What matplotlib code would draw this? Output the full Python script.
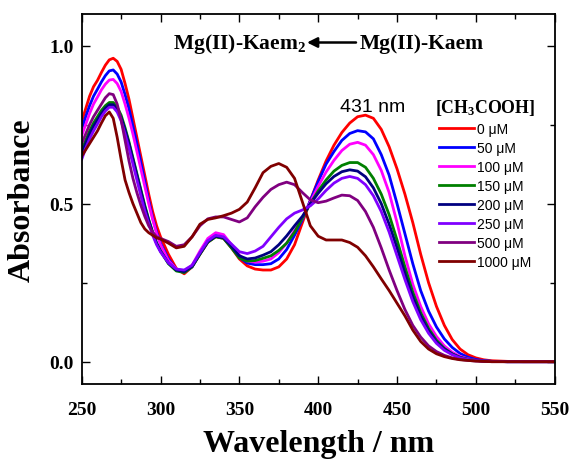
import matplotlib
matplotlib.use("Agg")
import matplotlib.pyplot as plt
from matplotlib.ticker import MultipleLocator

plt.rcParams['mathtext.fontset'] = 'custom'
plt.rcParams['mathtext.rm'] = 'Liberation Serif:bold'
plt.rcParams['mathtext.it'] = 'Liberation Serif:bold'
plt.rcParams['mathtext.bf'] = 'Liberation Serif:bold'

# ---------------- data ----------------
wavelength = [250, 252.5, 255, 257.5, 260, 262.5, 265, 267.5, 270, 272.5, 275, 277.5, 280, 282.5,
              285, 287.5, 290, 292.5, 295, 297.5, 300,
              305, 310, 315, 320, 325, 330, 335, 340, 345, 350,
              355, 360, 365, 370, 375, 380, 385, 390, 395, 400,
              405, 410, 415, 420, 425, 430, 435, 440, 445, 450,
              455, 460, 465, 470, 475, 480, 485, 490, 495, 500,
              505, 510, 520, 530, 540, 550]

abs_0 = [0.76, 0.80, 0.84, 0.87, 0.89, 0.915, 0.938, 0.955, 0.96, 0.95, 0.925, 0.88, 0.83, 0.77,
         0.71, 0.65, 0.59, 0.53, 0.475, 0.43, 0.395,
         0.34, 0.295, 0.278, 0.30, 0.34, 0.378, 0.396, 0.39, 0.36, 0.325,
         0.303, 0.293, 0.29, 0.29, 0.30, 0.325, 0.37, 0.44, 0.51, 0.575,
         0.635, 0.685, 0.725, 0.755, 0.775, 0.78, 0.77, 0.735, 0.68, 0.61,
         0.53, 0.44, 0.34, 0.25, 0.175, 0.115, 0.07, 0.04, 0.022, 0.012,
         0.006, 0.003, 0.001, 0, 0, 0]
abs_50 = [0.735, 0.775, 0.81, 0.84, 0.862, 0.885, 0.905, 0.92, 0.923, 0.91, 0.885, 0.845, 0.80, 0.745,
          0.69, 0.63, 0.57, 0.51, 0.455, 0.41, 0.375,
          0.325, 0.292, 0.283, 0.30, 0.342, 0.38, 0.398, 0.392, 0.362, 0.33,
          0.312, 0.307, 0.307, 0.31, 0.325, 0.355, 0.40, 0.45, 0.51, 0.57,
          0.625, 0.665, 0.70, 0.722, 0.731, 0.727, 0.705, 0.655, 0.59, 0.50,
          0.405, 0.31, 0.225, 0.16, 0.11, 0.072, 0.045, 0.026, 0.014, 0.007,
          0.003, 0.001, 0, 0, 0, 0]
abs_100 = [0.715, 0.75, 0.785, 0.815, 0.837, 0.86, 0.878, 0.891, 0.893, 0.88, 0.855, 0.815, 0.77, 0.72,
           0.665, 0.61, 0.555, 0.50, 0.45, 0.405, 0.37,
           0.32, 0.293, 0.287, 0.305, 0.35, 0.39, 0.408, 0.402, 0.37, 0.337,
           0.318, 0.315, 0.318, 0.325, 0.345, 0.375, 0.415, 0.455, 0.505, 0.555,
           0.60, 0.637, 0.668, 0.688, 0.694, 0.685, 0.655, 0.605, 0.535, 0.44,
           0.335, 0.245, 0.175, 0.12, 0.08, 0.05, 0.03, 0.017, 0.009, 0.004,
           0.002, 0.001, 0, 0, 0, 0]
abs_150 = [0.67, 0.70, 0.73, 0.755, 0.775, 0.795, 0.81, 0.82, 0.82, 0.805, 0.78, 0.74, 0.695, 0.645,
           0.595, 0.545, 0.495, 0.45, 0.41, 0.375, 0.35,
           0.31, 0.287, 0.282, 0.30, 0.34, 0.378, 0.395, 0.39, 0.36, 0.328,
           0.318, 0.32, 0.327, 0.335, 0.352, 0.375, 0.41, 0.455, 0.50, 0.54,
           0.575, 0.603, 0.621, 0.63, 0.63, 0.615, 0.58, 0.53, 0.465, 0.385,
           0.30, 0.22, 0.155, 0.105, 0.068, 0.042, 0.025, 0.014, 0.008, 0.004,
           0.002, 0.001, 0, 0, 0, 0]
abs_200 = [0.66, 0.69, 0.72, 0.745, 0.765, 0.785, 0.802, 0.813, 0.813, 0.798, 0.772, 0.733, 0.69, 0.64,
           0.59, 0.54, 0.49, 0.447, 0.408, 0.375, 0.35,
           0.312, 0.29, 0.285, 0.302, 0.342, 0.38, 0.397, 0.392, 0.365, 0.335,
           0.325, 0.328, 0.337, 0.348, 0.37, 0.398, 0.43, 0.46, 0.50, 0.533,
           0.563, 0.586, 0.601, 0.607, 0.603, 0.585, 0.55, 0.50, 0.435, 0.36,
           0.28, 0.205, 0.145, 0.098, 0.063, 0.04, 0.024, 0.013, 0.007, 0.004,
           0.002, 0.001, 0, 0, 0, 0]
abs_250 = [0.64, 0.675, 0.705, 0.73, 0.752, 0.775, 0.793, 0.805, 0.805, 0.79, 0.762, 0.72, 0.675, 0.625,
           0.575, 0.525, 0.477, 0.437, 0.40, 0.37, 0.347,
           0.313, 0.293, 0.29, 0.305, 0.345, 0.383, 0.40, 0.395, 0.372, 0.348,
           0.342, 0.35, 0.365, 0.395, 0.425, 0.452, 0.47, 0.48, 0.493, 0.515,
           0.542, 0.565, 0.58, 0.586, 0.58, 0.56, 0.525, 0.475, 0.41, 0.335,
           0.26, 0.19, 0.133, 0.09, 0.058, 0.036, 0.022, 0.012, 0.007, 0.004,
           0.002, 0.001, 0, 0, 0, 0]
abs_500 = [0.69, 0.72, 0.75, 0.775, 0.795, 0.815, 0.835, 0.848, 0.845, 0.815, 0.765, 0.70, 0.635, 0.58,
           0.535, 0.495, 0.46, 0.43, 0.41, 0.395, 0.39,
           0.38, 0.365, 0.37, 0.395, 0.43, 0.452, 0.458, 0.458, 0.45, 0.442,
           0.455, 0.49, 0.52, 0.545, 0.56, 0.568, 0.56, 0.535, 0.512, 0.503,
           0.508, 0.518, 0.527, 0.525, 0.51, 0.475, 0.425, 0.36, 0.29, 0.225,
           0.165, 0.115, 0.078, 0.05, 0.032, 0.02, 0.012, 0.007, 0.004, 0.002,
           0.001, 0, 0, 0, 0, 0]
abs_1000 = [0.65, 0.67, 0.69, 0.71, 0.73, 0.755, 0.778, 0.79, 0.77, 0.71, 0.64, 0.575, 0.535, 0.50,
            0.47, 0.44, 0.42, 0.408, 0.40, 0.392, 0.388,
            0.375, 0.36, 0.365, 0.395, 0.435, 0.45, 0.455, 0.462, 0.47, 0.482,
            0.505, 0.55, 0.598, 0.618, 0.627, 0.615, 0.58, 0.505, 0.43, 0.397,
            0.385, 0.385, 0.385, 0.377, 0.362, 0.335, 0.30, 0.262, 0.225, 0.185,
            0.145, 0.10, 0.064, 0.04, 0.025, 0.016, 0.01, 0.006, 0.004, 0.002,
            0.001, 0, 0, 0, 0, 0]

series = [abs_0, abs_50, abs_100, abs_150, abs_200, abs_250, abs_500, abs_1000]
labels = ['0 \u03bcM', '50 \u03bcM', '100 \u03bcM', '150 \u03bcM', '200 \u03bcM',
          '250 \u03bcM', '500 \u03bcM', '1000 \u03bcM']
colors = ['#FF0000', '#0000FF', '#FF00FF', '#008000', '#000080', '#8000FF', '#800080', '#800000']

x_ticks = [250, 300, 350, 400, 450, 500, 550]
y_ticks = [0.0, 0.5, 1.0]

# ---------------- figure ----------------
W, H = 570, 460
fig = plt.figure(figsize=(W / 100, H / 100), dpi=100)
ax = fig.add_axes([81.7 / W, (H - 385) / H, (554.7 - 81.7) / W, (385 - 15) / H])

for y, c, lab in zip(series, colors, labels):
    ax.plot(wavelength, y, color=c, lw=2.0, label=lab)

ax.set_xlim(250, 550)
ax.set_ylim(-0.0706, 1.100)
ax.set_xticks(x_ticks)
ax.set_yticks(y_ticks)
ax.xaxis.set_minor_locator(MultipleLocator(25))
ax.yaxis.set_minor_locator(MultipleLocator(0.25))
ax.set_xticklabels([str(v) for v in x_ticks])
ax.set_yticklabels(['%.1f' % v for v in y_ticks])

serif_bold = dict(family='Liberation Serif', weight='bold')
for lab in ax.get_xticklabels() + ax.get_yticklabels():
    lab.set_fontfamily('Liberation Serif')
    lab.set_fontweight('bold')
    lab.set_fontsize(14)

ax.tick_params(which='both', direction='in', top=True, right=True, width=1.0)
ax.tick_params(which='major', length=6)
ax.tick_params(which='minor', length=3.5)
ax.tick_params(axis='x', which='major', pad=12)
ax.tick_params(axis='y', which='major', pad=6)
for s in ax.spines.values():
    s.set_linewidth(1.3)

ax.set_xlabel('Wavelength / nm', fontsize=23, **serif_bold)
ax.set_ylabel('Absorbance', fontsize=23, **serif_bold)
ax.xaxis.set_label_coords(0.5, -0.122)
ax.yaxis.set_label_coords(-0.094, 0.5)

# legend
leg = ax.legend(loc='upper left', bbox_to_anchor=((428 - 81.7) / 473, (385 - 91) / 370),
                frameon=False, prop={'family': 'Liberation Sans', 'size': 10},
                handlelength=2.5, handletextpad=0.2, labelspacing=0.36, borderpad=0,
                title='[CH$_\\mathrm{3}$COOH]',
                title_fontproperties={'family': 'Liberation Serif', 'weight': 'bold', 'size': 12.8})

# annotation
ax.text(455, 0.793, '431 nm', family='Liberation Sans', fontsize=14, ha='right', va='baseline')

# title with arrow
fig.text(306 / W, 1 - 49.5 / H, 'Mg(II)-Kaem$_\\mathrm{2}$', ha='right', va='baseline',
         fontsize=15.5, **serif_bold)
fig.text(360 / W, 1 - 49.5 / H, 'Mg(II)-Kaem', ha='left', va='baseline',
         fontsize=15.5, **serif_bold)
ax.annotate('', xy=(307 / W, 1 - 43.5 / H), xytext=(356 / W, 1 - 43.5 / H),
            xycoords='figure fraction', textcoords='figure fraction',
            arrowprops=dict(arrowstyle='-|>,head_length=0.6,head_width=0.3', color='black', lw=1.8,
                            shrinkA=0, shrinkB=0))

fig.savefig('out.png', dpi=100)
